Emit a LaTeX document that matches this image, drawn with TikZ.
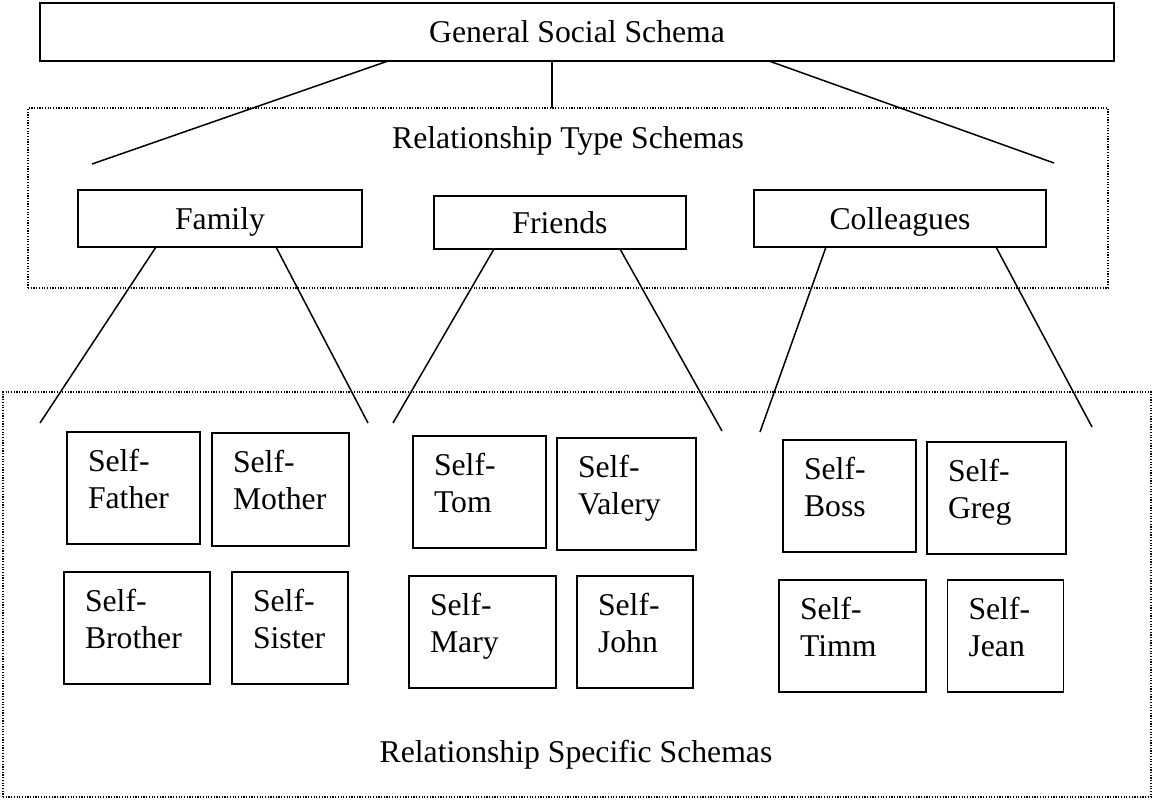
\documentclass[tikz,border=0pt]{standalone}
\usepackage{fontspec}
\setmainfont{Liberation Serif}
\usetikzlibrary{calc}
\begin{document}
\begin{tikzpicture}[x=0.5pt,y=-0.5pt,
  every node/.style={outer sep=0pt},
  txt/.style={font=\fontsize{15.85}{18.5}\selectfont},
  box/.style={draw, line width=0.8pt, inner sep=0pt, txt},
  typebox/.style={box, text depth=0pt},
  zone/.style={draw, line width=0.6pt, dash pattern=on 0.6pt off 0.75pt, inner sep=0pt},
  caption/.style={txt, inner sep=0pt, anchor=base},
  pairlabel/.style={txt, anchor=base west, inner sep=0pt, text width=70pt, align=left},
  link/.style={line width=0.75pt}]
\useasboundingbox (0,0) rectangle (1154,800);

% one self-other schema box: name, centre, width, height, other person
\newcommand\selfbox[5]{%
  \node[box, minimum width=#3, minimum height=#4] (#1) at (#2) {};
  \node[pairlabel] (#1-t) at ($(#1.north west)+(21,39)$) {Self-\\#5};}

% dotted tiers
\node[zone, minimum width=540pt, minimum height=90pt] (tier2) at (568,198) {};
\node[zone, minimum width=574pt, minimum height=202.5pt] (tier3) at (577,594.5) {};
\node[caption] (rts) at (568,148) {Relationship Type Schemas};
\node[caption] (rss) at (576,762) {Relationship Specific Schemas};

% general schema and relationship types
\node[box, minimum width=537pt, minimum height=29pt] (gen) at (577,32) {General Social Schema};
\node[typebox, minimum width=142pt, minimum height=28.5pt] (fam) at (220,218.5) {Family};
\node[typebox, minimum width=126pt, minimum height=26.5pt] (fri) at (560,222.5) {Friends};
\node[typebox, minimum width=146pt, minimum height=28.5pt] (col) at (900,218.5) {Colleagues};

% relationship specific schemas
\selfbox{fa}{133.5,488}{66.5pt}{56pt}{Father}
\selfbox{mo}{280.5,489.5}{68.5pt}{56.5pt}{Mother}
\selfbox{br}{137,628}{73pt}{56pt}{Brother}
\selfbox{si}{290,628}{58pt}{56pt}{Sister}
\selfbox{tom}{479.5,492}{66.5pt}{56pt}{Tom}
\selfbox{val}{626.5,494}{69.5pt}{56pt}{Valery}
\selfbox{mary}{482.5,632}{73.5pt}{56pt}{Mary}
\selfbox{john}{635,632}{58pt}{56pt}{John}
\selfbox{boss}{849.5,496}{66.5pt}{56pt}{Boss}
\selfbox{greg}{996.5,498}{69.5pt}{56pt}{Greg}
\selfbox{timm}{852.5,636}{73.5pt}{56pt}{Timm}
\selfbox{jean}{1005.5,636}{58pt}{56pt}{Jean}

% free ends of the connectors
\coordinate (genL) at (92,164);
\coordinate (genR) at (1054,163);
\coordinate (famL) at (40,423);
\coordinate (famR) at (368,423);
\coordinate (friL) at (393,423);
\coordinate (friR) at (722,431);
\coordinate (colL) at (760,432);
\coordinate (colR) at (1092,427);

% connectors
\draw[link] (gen.south) ++(-189,0) -- (genL);
\draw[link] (gen.south -| 552,0) -- (tier2.north -| 552,0);
\draw[link] (gen.south) ++(192,0) -- (genR);
\draw[link] (fam.south) ++(-64,0) -- (famL);
\draw[link] (fam.south) ++(56,0) -- (famR);
\draw[link] (fri.south) ++(-66,0) -- (friL);
\draw[link] (fri.south) ++(60,0) -- (friR);
\draw[link] (col.south) ++(-74,0) -- (colL);
\draw[link] (col.south) ++(96,0) -- (colR);
\end{tikzpicture}
\end{document}
